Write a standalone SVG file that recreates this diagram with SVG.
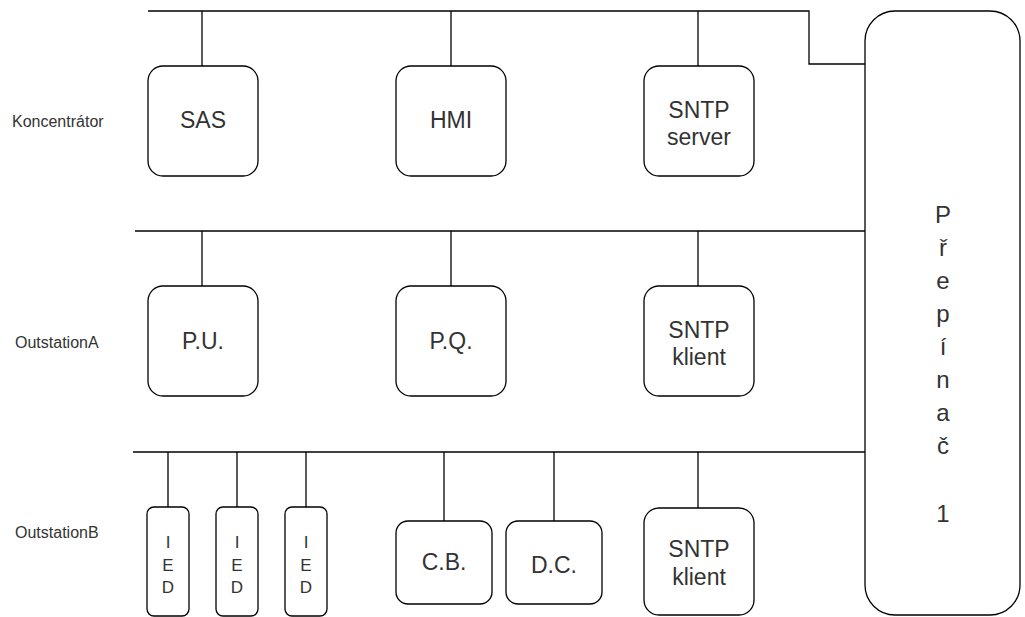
<svg xmlns="http://www.w3.org/2000/svg" width="1025" height="617" viewBox="0 0 1025 617">
  <style>
    .box { fill: #ffffff; stroke: #000000; stroke-width: 1.3; }
    .wire { fill: none; stroke: #000000; stroke-width: 1.3; }
    .lbl { font-family: "Liberation Sans", Arial, sans-serif; fill: #333333; text-anchor: middle; }
    .big { font-size: 23px; }
    .small { font-size: 17px; }
    .sw { font-size: 24px; }
    .row { font-family: "Liberation Sans", Arial, sans-serif; font-size: 16px; fill: #333333; }
  </style>
  <rect width="1025" height="617" fill="#ffffff"/>

  <!-- bus lines and drops -->
  <g id="connectors">
    <polyline class="wire" points="148,11 809,11 809,64 865,64"/>
    <line class="wire" x1="202" y1="11" x2="202" y2="66"/>
    <line class="wire" x1="451" y1="11" x2="451" y2="66"/>
    <line class="wire" x1="698" y1="11" x2="698" y2="66"/>

    <line class="wire" x1="135" y1="231" x2="865" y2="231"/>
    <line class="wire" x1="202" y1="231" x2="202" y2="286"/>
    <line class="wire" x1="451" y1="231" x2="451" y2="286"/>
    <line class="wire" x1="698" y1="231" x2="698" y2="286"/>

    <line class="wire" x1="133" y1="452" x2="865" y2="452"/>
    <line class="wire" x1="168" y1="452" x2="168" y2="507"/>
    <line class="wire" x1="237" y1="452" x2="237" y2="507"/>
    <line class="wire" x1="306" y1="452" x2="306" y2="507"/>
    <line class="wire" x1="444" y1="452" x2="444" y2="521"/>
    <line class="wire" x1="554" y1="452" x2="554" y2="521"/>
    <line class="wire" x1="698" y1="452" x2="698" y2="508"/>
  </g>

  <!-- row labels -->
  <g id="row-labels">
    <text class="row" x="12" y="127">Koncentrátor</text>
    <text class="row" x="15" y="348">OutstationA</text>
    <text class="row" x="15" y="538">OutstationB</text>
  </g>

  <!-- Koncentrátor row -->
  <g id="sas">
    <rect class="box" x="148" y="66" width="110" height="110" rx="15"/>
    <text class="lbl big" x="203" y="128">SAS</text>
  </g>
  <g id="hmi">
    <rect class="box" x="396" y="66" width="110" height="110" rx="15"/>
    <text class="lbl big" x="451" y="128">HMI</text>
  </g>
  <g id="sntp-server">
    <rect class="box" x="644" y="66" width="110" height="110" rx="15"/>
    <text class="lbl big" x="699" y="118">SNTP</text>
    <text class="lbl big" x="699" y="145">server</text>
  </g>

  <!-- OutstationA row -->
  <g id="pu">
    <rect class="box" x="148" y="286" width="110" height="110" rx="15"/>
    <text class="lbl big" x="203" y="349">P.U.</text>
  </g>
  <g id="pq">
    <rect class="box" x="396" y="286" width="110" height="110" rx="15"/>
    <text class="lbl big" x="451" y="349">P.Q.</text>
  </g>
  <g id="sntp-klient-a">
    <rect class="box" x="644" y="286" width="110" height="110" rx="15"/>
    <text class="lbl big" x="699" y="338">SNTP</text>
    <text class="lbl big" x="699" y="365">klient</text>
  </g>

  <!-- OutstationB row -->
  <g id="ied-1">
    <rect class="box" x="147" y="507" width="42" height="109" rx="7"/>
    <text class="lbl small" x="168" y="548">I</text>
    <text class="lbl small" x="168" y="571">E</text>
    <text class="lbl small" x="168" y="593">D</text>
  </g>
  <g id="ied-2">
    <rect class="box" x="216" y="507" width="42" height="109" rx="7"/>
    <text class="lbl small" x="237" y="548">I</text>
    <text class="lbl small" x="237" y="571">E</text>
    <text class="lbl small" x="237" y="593">D</text>
  </g>
  <g id="ied-3">
    <rect class="box" x="285" y="507" width="42" height="109" rx="7"/>
    <text class="lbl small" x="306" y="548">I</text>
    <text class="lbl small" x="306" y="571">E</text>
    <text class="lbl small" x="306" y="593">D</text>
  </g>
  <g id="cb">
    <rect class="box" x="396" y="521" width="96" height="83" rx="12"/>
    <text class="lbl big" x="444" y="570">C.B.</text>
  </g>
  <g id="dc">
    <rect class="box" x="506" y="521" width="96" height="83" rx="12"/>
    <text class="lbl big" x="554" y="573">D.C.</text>
  </g>
  <g id="sntp-klient-b">
    <rect class="box" x="644" y="508" width="110" height="107" rx="15"/>
    <text class="lbl big" x="699" y="557">SNTP</text>
    <text class="lbl big" x="699" y="585">klient</text>
  </g>

  <!-- switch -->
  <g id="prepinac">
    <rect class="box" x="865" y="11" width="155" height="604" rx="30"/>
    <text class="lbl sw" x="943" y="223">P</text>
    <text class="lbl sw" x="943" y="256">ř</text>
    <text class="lbl sw" x="943" y="289">e</text>
    <text class="lbl sw" x="943" y="322">p</text>
    <text class="lbl sw" x="943" y="355">í</text>
    <text class="lbl sw" x="943" y="388">n</text>
    <text class="lbl sw" x="943" y="421">a</text>
    <text class="lbl sw" x="943" y="454">č</text>
    <text class="lbl sw" x="943" y="522">1</text>
  </g>
</svg>
